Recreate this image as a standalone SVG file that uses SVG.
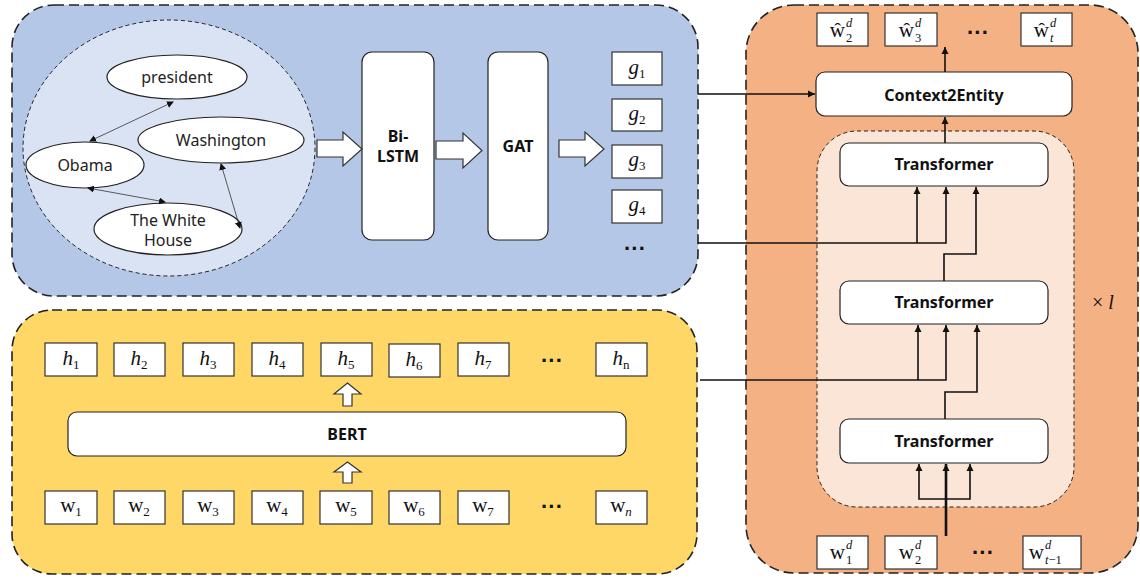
<svg xmlns="http://www.w3.org/2000/svg" width="1140" height="578" viewBox="0 0 1140 578">
<style>
.panel{stroke:#222;stroke-width:1.6;stroke-dasharray:10 5}
.box{fill:#fff;stroke:#333;stroke-width:1.2}
.rbox{fill:#fff;stroke:#222;stroke-width:1.2}
.ell{fill:#fff;stroke:#222;stroke-width:1.2}
.lbl{font-family:"Noto Sans","Open Sans",sans-serif;font-size:16px;fill:#222;text-anchor:middle}
.bold{font-family:"Noto Sans","Open Sans",sans-serif;font-size:16px;font-weight:bold;fill:#111;text-anchor:middle}
.math{font-family:"Liberation Serif","DejaVu Serif",serif;font-size:21px;fill:#111;text-anchor:middle}
.mw{font-family:"Liberation Serif","DejaVu Serif",serif;font-size:21px;fill:#111;text-anchor:end}
.sc{font-family:"Liberation Serif","DejaVu Serif",serif;font-size:12.5px;fill:#111}
.it{font-style:italic}
.sub{font-size:13px}
.dots{font-family:"Liberation Sans",sans-serif;font-size:22px;font-weight:bold;fill:#111;text-anchor:middle}
.conn{fill:none;stroke:#111;stroke-width:1.6}
.thin{fill:none;stroke:#333;stroke-width:0.8}
.blk{fill:#fff;stroke:#333;stroke-width:1.2}
</style>
<defs>
<marker id="ah" markerWidth="8" markerHeight="8" refX="7" refY="4" orient="auto" markerUnits="userSpaceOnUse">
<path d="M0,0.5 L7,4 L0,7.5 Z" fill="#111"/>
</marker>
<marker id="sh" markerWidth="8" markerHeight="8" refX="6" refY="3.5" orient="auto-start-reverse" markerUnits="userSpaceOnUse">
<path d="M0,0 L7,3.5 L0,7 Z" fill="#111"/>
</marker>
</defs>

<!-- panels -->
<g id="graph-panel">
<rect class="panel" x="12" y="5" width="686" height="291" rx="42" fill="#B4C7E7"/>
<ellipse cx="169" cy="148" rx="146" ry="128" fill="#DAE3F3" stroke="#222" stroke-width="1" stroke-dasharray="4 3"/>
</g>
<g id="bert-panel">
<rect class="panel" x="12" y="310" width="685" height="264" rx="40" fill="#FED766"/>
</g>
<g id="decoder-panel">
<rect class="panel" x="746" y="5" width="392" height="568" rx="48" fill="#F4B183"/>
<rect x="817" y="131" width="257" height="376" rx="40" fill="#FBE5D6" stroke="#222" stroke-width="1" stroke-dasharray="4 3"/>
</g>

<!-- graph nodes -->
<g id="n-president"><ellipse class="ell" cx="177" cy="77" rx="70" ry="22"/><text class="lbl" x="177" y="83">president</text></g>
<g id="n-washington"><ellipse class="ell" cx="221" cy="140" rx="83" ry="23"/><text class="lbl" x="221" y="146">Washington</text></g>
<g id="n-obama"><ellipse class="ell" cx="85" cy="165" rx="59" ry="23"/><text class="lbl" x="85" y="171">Obama</text></g>
<g id="n-whitehouse"><ellipse class="ell" cx="168" cy="229" rx="74" ry="26"/><text class="lbl" x="168" y="226">The White</text><text class="lbl" x="168" y="246">House</text></g>

<!-- pipeline nodes -->
<g id="n-bilstm"><rect class="rbox" x="362" y="52" width="72" height="188" rx="10"/><text class="bold" x="398" y="142" font-size="14">Bi-</text><text class="bold" x="398" y="162" font-size="14">LSTM</text></g>
<g id="n-gat"><rect class="rbox" x="488" y="52" width="60" height="188" rx="10"/><text class="bold" x="518" y="152" font-size="15">GAT</text></g>

<g id="n-g1"><rect class="box" x="612" y="52" width="50" height="33"/><text class="math" x="637" y="74"><tspan class="it">g</tspan><tspan class="sub" dy="4">1</tspan></text></g>
<g id="n-g2"><rect class="box" x="612" y="99" width="50" height="32"/><text class="math" x="637" y="120"><tspan class="it">g</tspan><tspan class="sub" dy="4">2</tspan></text></g>
<g id="n-g3"><rect class="box" x="612" y="145" width="50" height="33"/><text class="math" x="637" y="166"><tspan class="it">g</tspan><tspan class="sub" dy="4">3</tspan></text></g>
<g id="n-g4"><rect class="box" x="612" y="190" width="50" height="33"/><text class="math" x="637" y="211"><tspan class="it">g</tspan><tspan class="sub" dy="4">4</tspan></text></g>
<text class="dots" x="635" y="256">···</text>

<!-- BERT panel -->
<g id="n-h1"><rect class="box" x="45" y="343" width="52" height="33"/><text class="math" x="71" y="365"><tspan class="it">h</tspan><tspan class="sub" dy="4">1</tspan></text></g>
<g id="n-h2"><rect class="box" x="114" y="343" width="51" height="33"/><text class="math" x="139" y="365"><tspan class="it">h</tspan><tspan class="sub" dy="4">2</tspan></text></g>
<g id="n-h3"><rect class="box" x="183" y="343" width="51" height="33"/><text class="math" x="208" y="365"><tspan class="it">h</tspan><tspan class="sub" dy="4">3</tspan></text></g>
<g id="n-h4"><rect class="box" x="252" y="343" width="51" height="33"/><text class="math" x="277" y="365"><tspan class="it">h</tspan><tspan class="sub" dy="4">4</tspan></text></g>
<g id="n-h5"><rect class="box" x="321" y="343" width="51" height="33"/><text class="math" x="346" y="365"><tspan class="it">h</tspan><tspan class="sub" dy="4">5</tspan></text></g>
<g id="n-h6"><rect class="box" x="389" y="344" width="51" height="33"/><text class="math" x="414" y="366"><tspan class="it">h</tspan><tspan class="sub" dy="4">6</tspan></text></g>
<g id="n-h7"><rect class="box" x="458" y="343" width="51" height="33"/><text class="math" x="483" y="365"><tspan class="it">h</tspan><tspan class="sub" dy="4">7</tspan></text></g>
<text class="dots" x="552" y="368">···</text>
<g id="n-hn"><rect class="box" x="596" y="343" width="51" height="33"/><text class="math" x="621" y="365"><tspan class="it">h</tspan><tspan class="sub" dy="4">n</tspan></text></g>

<g id="n-bert"><rect class="rbox" x="68" y="412" width="558" height="44" rx="9"/><text class="bold" x="347" y="440">BERT</text></g>

<g id="n-w1"><rect class="box" x="45" y="491" width="52" height="33"/><text class="math" x="71" y="512">w<tspan class="sub" dy="4">1</tspan></text></g>
<g id="n-w2"><rect class="box" x="114" y="491" width="51" height="33"/><text class="math" x="139" y="512">w<tspan class="sub" dy="4">2</tspan></text></g>
<g id="n-w3"><rect class="box" x="183" y="491" width="51" height="33"/><text class="math" x="208" y="512">w<tspan class="sub" dy="4">3</tspan></text></g>
<g id="n-w4"><rect class="box" x="252" y="491" width="51" height="33"/><text class="math" x="277" y="512">w<tspan class="sub" dy="4">4</tspan></text></g>
<g id="n-w5"><rect class="box" x="320" y="491" width="52" height="33"/><text class="math" x="346" y="512">w<tspan class="sub" dy="4">5</tspan></text></g>
<g id="n-w6"><rect class="box" x="389" y="491" width="51" height="33"/><text class="math" x="414" y="512">w<tspan class="sub" dy="4">6</tspan></text></g>
<g id="n-w7"><rect class="box" x="458" y="491" width="51" height="33"/><text class="math" x="483" y="512">w<tspan class="sub" dy="4">7</tspan></text></g>
<text class="dots" x="552" y="514">···</text>
<g id="n-wn"><rect class="box" x="596" y="491" width="51" height="33"/><text class="math" x="621" y="512">w<tspan class="sub it" dy="4">n</tspan></text></g>

<!-- decoder nodes -->
<g id="n-hw2"><rect class="box" x="817" y="13" width="51" height="33"/><text class="mw" x="845" y="37">ŵ</text><text class="sc it" x="846" y="27">d</text><text class="sc" x="846" y="42">2</text></g>
<g id="n-hw3"><rect class="box" x="885" y="13" width="52" height="33"/><text class="mw" x="914" y="37">ŵ</text><text class="sc it" x="915" y="27">d</text><text class="sc" x="915" y="42">3</text></g>
<text class="dots" x="978" y="40">···</text>
<g id="n-hwt"><rect class="box" x="1021" y="13" width="51" height="33"/><text class="mw" x="1049" y="37">ŵ</text><text class="sc it" x="1050" y="27">d</text><text class="sc it" x="1050" y="42">t</text></g>

<g id="n-c2e"><rect class="rbox" x="816" y="72" width="256" height="44" rx="9"/><text class="bold" x="944" y="101">Context2Entity</text></g>
<g id="n-tf1"><rect class="rbox" x="840" y="143" width="208" height="43" rx="9"/><text class="bold" x="944" y="170">Transformer</text></g>
<g id="n-tf2"><rect class="rbox" x="840" y="281" width="208" height="43" rx="9"/><text class="bold" x="944" y="308">Transformer</text></g>
<g id="n-tf3"><rect class="rbox" x="840" y="419" width="208" height="44" rx="9"/><text class="bold" x="944" y="447">Transformer</text></g>
<text x="1092" y="309" font-family="Liberation Serif,serif" font-size="20" fill="#111">× <tspan font-style="italic">l</tspan></text>

<g id="n-wd1"><rect class="box" x="817" y="536" width="51" height="33"/><text class="mw" x="845" y="559">w</text><text class="sc it" x="846" y="549">d</text><text class="sc" x="846" y="564">1</text></g>
<g id="n-wd2"><rect class="box" x="885" y="536" width="52" height="33"/><text class="mw" x="914" y="559">w</text><text class="sc it" x="915" y="549">d</text><text class="sc" x="915" y="564">2</text></g>
<text class="dots" x="983" y="560">···</text>
<g id="n-wdt"><rect class="box" x="1023" y="536" width="58" height="33"/><text class="mw" x="1044" y="559">w</text><text class="sc it" x="1045" y="549">d</text><text class="sc" x="1045" y="564"><tspan class="it">t</tspan>−1</text></g>

<!-- connectors -->
<g id="connectors">
<!-- graph edges -->
<line class="thin" x1="173" y1="102" x2="90" y2="141" marker-start="url(#sh)" marker-end="url(#sh)"/>
<line class="thin" x1="88" y1="188" x2="165" y2="202" marker-start="url(#sh)" marker-end="url(#sh)"/>
<line class="thin" x1="221" y1="164" x2="240" y2="228" marker-start="url(#sh)" marker-end="url(#sh)"/>
<!-- block arrows -->
<path class="blk" d="M317,140 H343 V132 L362,149 L343,166 V157 H317 Z"/>
<path class="blk" d="M436,141 H463 V133 L482,150.5 L463,168 V159 H436 Z"/>
<path class="blk" d="M559,140 H585 V132 L604,149 L585,166 V157 H559 Z"/>
<path class="blk" d="M343,406 V394 H334 L347.5,383 L361,394 H352 V406 Z"/>
<path class="blk" d="M343,483 V472 H334 L347.5,462 L361,472 H352 V483 Z"/>
<!-- to Context2Entity -->
<line class="conn" x1="698" y1="94" x2="815" y2="94" marker-end="url(#ah)"/>
<line class="conn" x1="945" y1="72" x2="945" y2="47" marker-end="url(#ah)"/>
<line class="conn" x1="945" y1="143" x2="945" y2="117" marker-end="url(#ah)"/>
<!-- graph to tf1 -->
<polyline class="conn" points="698,243 946,243 946,187" marker-end="url(#ah)"/>
<polyline class="conn" points="917,243 917,187" marker-end="url(#ah)"/>
<polyline class="conn" points="944,281 944,254 976,254 976,187" marker-end="url(#ah)"/>
<!-- bert to tf2 -->
<polyline class="conn" points="700,380 946,380 946,325" marker-end="url(#ah)"/>
<polyline class="conn" points="918,380 918,325" marker-end="url(#ah)"/>
<polyline class="conn" points="945,419 945,392 977,392 977,325" marker-end="url(#ah)"/>
<!-- decoder input to tf3 -->
<line x1="946" y1="536" x2="946" y2="464" stroke="#111" stroke-width="2.6" marker-end="url(#ah)"/>
<polyline class="conn" points="946,499 919,499 919,464" marker-end="url(#ah)"/>
<polyline class="conn" points="946,499 970,499 970,464" marker-end="url(#ah)"/>
</g>
</svg>
